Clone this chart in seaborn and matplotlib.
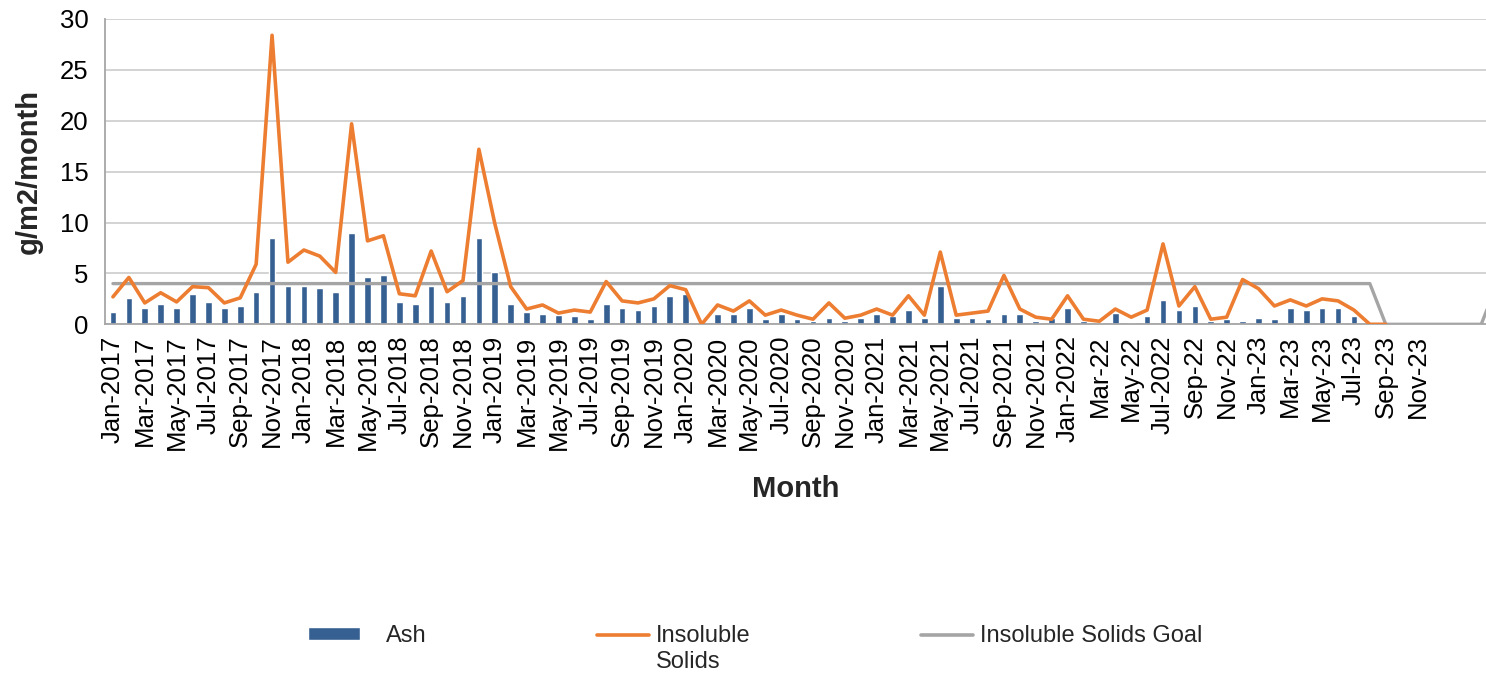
import pandas as pd
import seaborn as sns
import matplotlib
matplotlib.use("Agg")
import matplotlib.pyplot as plt
from matplotlib.patches import Patch
from matplotlib.lines import Line2D

# monthly readings, Jan-2017 .. Apr-2024 (88 months), None = no reading
ash = [
    1.2, 2.6, 1.6, 2.0, 1.6, 3.0, 2.2, 1.6, 1.8, 3.2, 8.5, 3.8,    # 2017
    3.8, 3.6, 3.2, 9.0, 4.6, 4.8, 2.2, 2.0, 3.8, 2.2, 2.8, 8.5,    # 2018
    5.1, 2.0, 1.2, 1.0, 0.9, 0.8, 0.5, 2.0, 1.6, 1.4, 1.8, 2.8,    # 2019
    3.0, 0.0, 1.0, 1.0, 1.6, 0.5, 1.0, 0.5, 0.3, 0.6, 0.3, 0.6,    # 2020
    1.0, 0.8, 1.4, 0.6, 3.8, 0.6, 0.6, 0.5, 1.0, 1.0, 0.3, 0.6,    # 2021
    1.6, 0.3, 0.1, 1.1, 0.1, 0.8, 2.4, 1.4, 1.8, 0.3, 0.5, 0.3,    # 2022
    0.6, 0.5, 1.6, 1.4, 1.6, 1.6, 0.8, None, None, None, None, None,  # 2023
    None, None, None, None,                                        # 2024
]
insoluble = [
    2.7, 4.6, 2.1, 3.1, 2.2, 3.7, 3.6, 2.1, 2.6, 5.9, 28.4, 6.1,   # 2017
    7.3, 6.7, 5.1, 19.7, 8.2, 8.7, 3.0, 2.8, 7.2, 3.2, 4.3, 17.2,  # 2018
    9.9, 3.7, 1.5, 1.9, 1.1, 1.4, 1.2, 4.2, 2.3, 2.1, 2.5, 3.8,    # 2019
    3.4, 0.0, 1.9, 1.3, 2.3, 0.9, 1.4, 0.9, 0.5, 2.1, 0.6, 0.9,    # 2020
    1.5, 0.9, 2.8, 0.9, 7.1, 0.9, 1.1, 1.3, 4.8, 1.5, 0.7, 0.5,    # 2021
    2.8, 0.5, 0.3, 1.5, 0.7, 1.4, 7.9, 1.8, 3.7, 0.5, 0.7, 4.4,    # 2022
    3.5, 1.8, 2.4, 1.8, 2.5, 2.3, 1.4, 0.0, 0.0, None, None, None,  # 2023
    None, None, None, None,                                        # 2024
]
goal = [
    4, 4, 4, 4, 4, 4, 4, 4, 4, 4, 4, 4,   # 2017
    4, 4, 4, 4, 4, 4, 4, 4, 4, 4, 4, 4,   # 2018
    4, 4, 4, 4, 4, 4, 4, 4, 4, 4, 4, 4,   # 2019
    4, 4, 4, 4, 4, 4, 4, 4, 4, 4, 4, 4,   # 2020
    4, 4, 4, 4, 4, 4, 4, 4, 4, 4, 4, 4,   # 2021
    4, 4, 4, 4, 4, 4, 4, 4, 4, 4, 4, 4,   # 2022
    4, 4, 4, 4, 4, 4, 4, 4, 0, 0, 0, 0,   # 2023
    0, 0, 0, 4,                           # 2024
]
tick_labels = [
    "Jan-2017", "Mar-2017", "May-2017", "Jul-2017", "Sep-2017", "Nov-2017",
    "Jan-2018", "Mar-2018", "May-2018", "Jul-2018", "Sep-2018", "Nov-2018",
    "Jan-2019", "Mar-2019", "May-2019", "Jul-2019", "Sep-2019", "Nov-2019",
    "Jan-2020", "Mar-2020", "May-2020", "Jul-2020", "Sep-2020", "Nov-2020",
    "Jan-2021", "Mar-2021", "May-2021", "Jul-2021", "Sep-2021", "Nov-2021",
    "Jan-2022", "Mar-22", "May-22", "Jul-2022", "Sep-22", "Nov-22",
    "Jan-23", "Mar-23", "May-23", "Jul-23", "Sep-23", "Nov-23",
]

BAR_COLOR = "#376092"
ORANGE = "#ED7D31"
GRAY = "#A5A5A5"

sns.set_style("white")
plt.rcParams["font.family"] = ["Liberation Sans", "DejaVu Sans"]

df = pd.DataFrame({"ash": ash, "insoluble": insoluble, "goal": goal}, dtype=float)
df["month_no"] = range(len(df))

W, H = 1486, 674
fig = plt.figure(figsize=(W / 100, H / 100), dpi=100)
ax = fig.add_axes([105 / W, 1 - 324.3 / H, (W - 105) / W, (324.3 - 19) / H])

# bars first, lines on top (as in the original combo chart)
sns.barplot(data=df.dropna(subset=["ash"]), x="month_no", y="ash", native_scale=True,
            width=0.42, color=BAR_COLOR, saturation=1, errorbar=None, ax=ax, zorder=2)
sns.lineplot(data=df, x="month_no", y="goal", color=GRAY, linewidth=2.4, ax=ax, zorder=3)
sns.lineplot(data=df.dropna(subset=["insoluble"]), x="month_no", y="insoluble",
             color=ORANGE, linewidth=2.6, ax=ax, zorder=4)

ax.set_xlim(-0.5, 86.3)
ax.set_ylim(0, 30)
ax.set_yticks(range(0, 31, 5))
ax.set_xticks(range(0, 2 * len(tick_labels), 2))
ax.set_xticklabels(tick_labels, rotation=90)
ax.tick_params(axis="both", length=0, labelsize=18.5, colors="black")
ax.tick_params(axis="y", pad=12)
ax.tick_params(axis="x", pad=8)
ax.grid(axis="y", color="#D0D0D0", linewidth=1.3, zorder=0)
ax.set_axisbelow(True)
for side in ["top", "right"]:
    ax.spines[side].set_visible(False)
for side in ["left", "bottom"]:
    ax.spines[side].set_color("#A6A6A6")
    ax.spines[side].set_linewidth(1.3)

ax.set_xlabel("Month", fontsize=21, fontweight="bold", labelpad=18)
ax.set_ylabel("g/m2/month", fontsize=21, fontweight="bold", labelpad=12)

# legend, one entry per slot like the Excel legend row
legend_y = 1 - 636 / H
entries = [
    (Patch(facecolor=BAR_COLOR), "Ash", 308, 1.1),
    (Line2D([], [], color=ORANGE, linewidth=2.6), "Insoluble", 597, 0.3),
    (Line2D([], [], color=GRAY, linewidth=2.6), "Insoluble Solids Goal", 921, 0.3),
]
legends = []
for handle, label, x_px, pad in entries:
    leg = fig.legend(handles=[handle], labels=[label], loc="center left",
                     bbox_to_anchor=(x_px / W, legend_y), frameon=False, fontsize=17,
                     borderpad=0, borderaxespad=0, handlelength=2.2, handleheight=0.45,
                     handletextpad=pad)
    legends.append(leg)

# second line of the wrapped "Insoluble Solids" label
fig.canvas.draw()
bb = legends[1].get_texts()[0].get_window_extent()
fig.text(bb.x0 / W, (bb.y0 - 26) / H, "Solids", fontsize=17, va="bottom", ha="left")

fig.savefig("out.png", dpi=100)
plt.close(fig)
